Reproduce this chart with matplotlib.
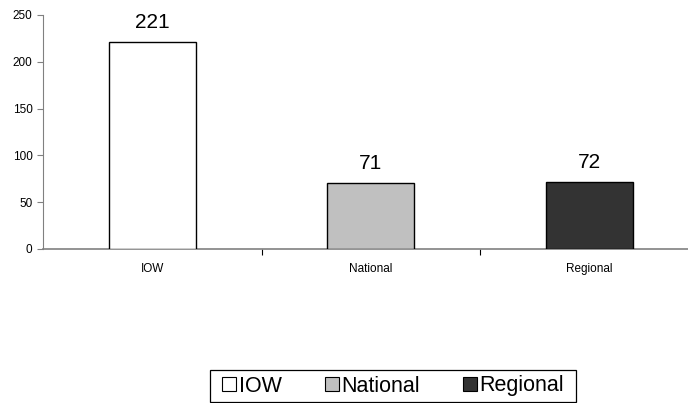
import matplotlib
matplotlib.use("Agg")
import matplotlib.pyplot as plt
from matplotlib.patches import Patch, Rectangle

plt.rcParams['font.family'] = ['Liberation Sans', 'DejaVu Sans']

categories = ["IOW", "National", "Regional"]
values = [221, 71, 72]
colors = ["#FFFFFF", "#C0C0C0", "#333333"]
yticks = [0, 50, 100, 150, 200, 250]

W, H = 688, 403
fig = plt.figure(figsize=(W / 100, H / 100), dpi=100)
ax = fig.add_axes([43 / W, 1 - 249 / H, 655.5 / W, 234 / H])

x = range(len(categories))
ax.bar(x, values, width=0.40, color=colors, edgecolor="black", linewidth=1.0, zorder=3)

for xi, v in zip(x, values):
    ax.annotate(str(v), (xi, v), xytext=(0, 7), textcoords="offset points",
                ha="center", va="bottom", fontsize=15)

ax.set_xlim(-0.5, 2.5)
ax.set_ylim(0, 250)
ax.set_yticks(yticks)
ax.set_xticks([0.5, 1.5], minor=False)
ax.set_xticklabels([])
ax.set_xticks(list(x), minor=True)
ax.set_xticklabels(categories, minor=True)
ax.tick_params(axis="x", which="minor", length=0, pad=10, labelsize=8.5)
ax.tick_params(axis="x", which="major", length=4, direction="out", color="black")
ax.tick_params(axis="y", length=4, direction="out", color="#808080", labelsize=8.5)

for side in ["top", "right"]:
    ax.spines[side].set_visible(False)
ax.spines["left"].set_color("#808080")
ax.spines["bottom"].set_color("#808080")
ax.spines["bottom"].set_linewidth(1.2)

# Legend entries, with a wider frame box drawn around them
handles = [Patch(facecolor=c, edgecolor="black", linewidth=0.8, label=l)
           for c, l in zip(colors, categories)]
fig.legend(handles=handles, loc="center", bbox_to_anchor=(393 / W, 1 - 386 / H),
           ncol=3, fontsize=15.5, frameon=False,
           handlelength=0.65, handleheight=0.65, handletextpad=0.12, columnspacing=2.0,
           borderpad=0.2, borderaxespad=0)
fig.add_artist(Rectangle((210 / W, 1 - 402 / H), 366 / W, 32 / H,
                         transform=fig.transFigure, facecolor="none",
                         edgecolor="black", linewidth=0.9))

fig.savefig("out.png", dpi=100)
